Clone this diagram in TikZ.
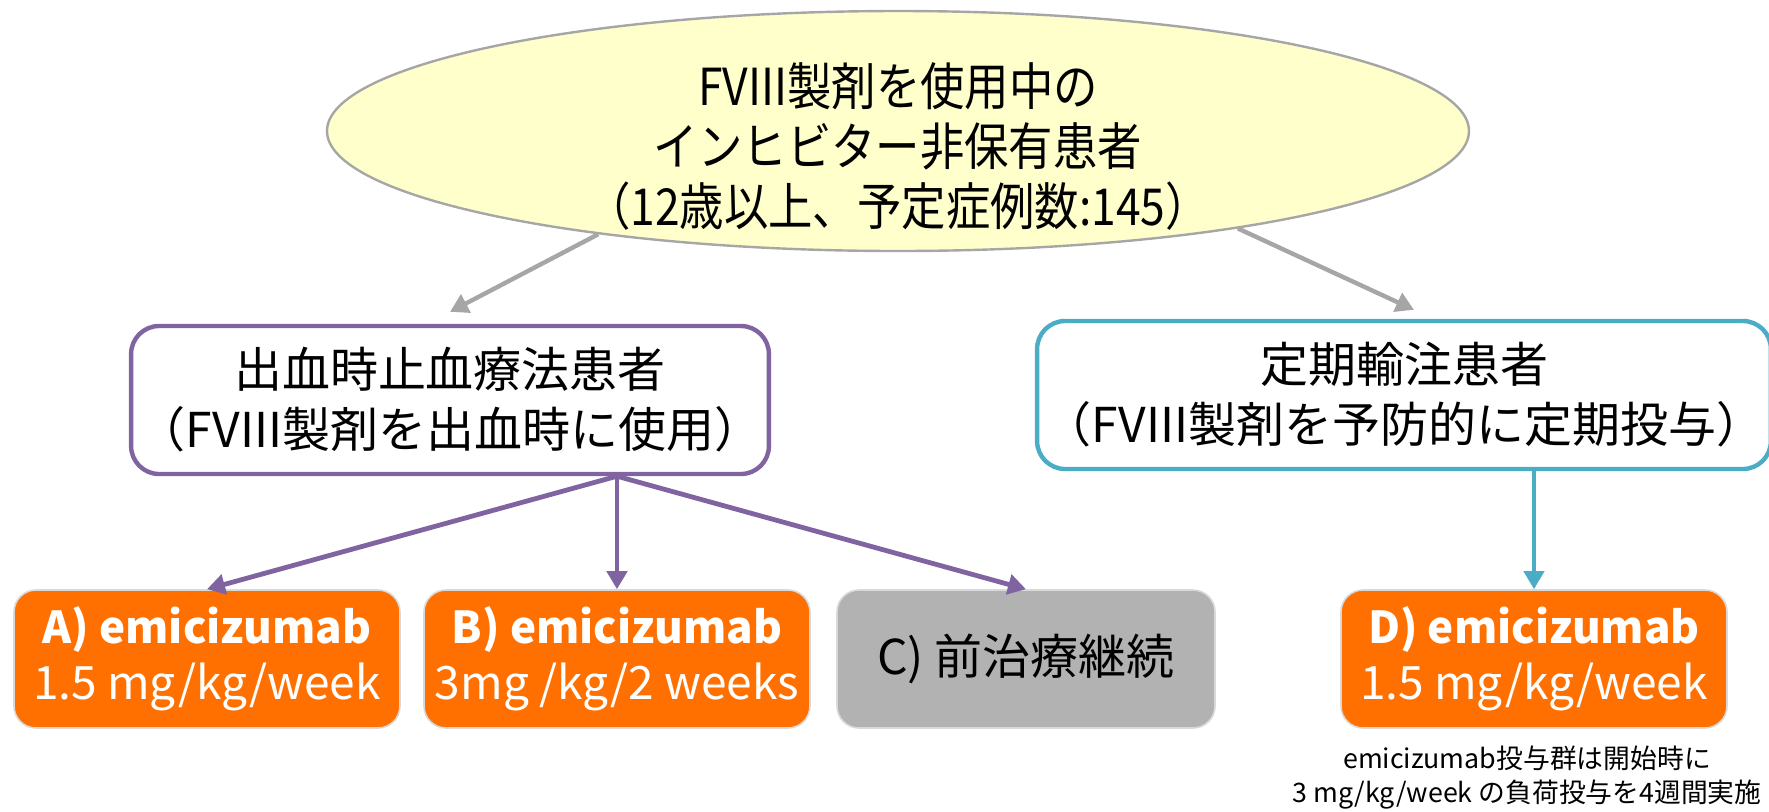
\documentclass[tikz,border=0pt]{standalone}
\usepackage{fontspec}
\setmainfont{Noto Sans CJK JP}
\newfontfamily\narrowjp{Noto Sans CJK JP}[FakeStretch=0.87]
\usepackage{xcolor}
\usetikzlibrary{shapes.geometric,arrows.meta}

\definecolor{ellfill}{HTML}{FFFFCC}
\definecolor{ellline}{HTML}{A6A6A6}
\definecolor{arrowgray}{HTML}{A6A6A6}
\definecolor{bleedpurple}{HTML}{8064A2}
\definecolor{prophteal}{HTML}{4BACC6}
\definecolor{armorange}{RGB}{255,112,0}
\definecolor{armgray}{HTML}{B2B2B2}

\begin{document}
\begin{tikzpicture}[x=0.5pt,y=-0.5pt,
	>={Triangle[length=9pt,width=10pt]},
	patient/.style={draw, rounded corners=14pt, line width=2.2pt, fill=white,
		minimum width=#1, minimum height=74pt, align=center,
		font=\fontsize{24}{30}\selectfont},
	arm/.style={rounded corners=11pt, fill=armorange, draw=black!15, line width=0.8pt,
		minimum width=193pt, minimum height=69pt, align=center, text=white,
		font=\fontsize{22}{28}\selectfont},
	]
	\useasboundingbox (0,0) rectangle (1769,811);

	\node[ellipse, draw=ellline, line width=1.2pt, fill=ellfill, minimum width=571pt,
		minimum height=120pt, inner sep=0pt] (top) at (898,131) {};
	\node[align=center, font=\narrowjp\fontsize{25.5}{30}\selectfont] (toptext) at (898,146)
		{FVIII製剤を使用中の\\インヒビター非保有患者\\（12歳以上、予定症例数:145）};

	\node[patient=309pt, draw=bleedpurple] (lbox) at (450,400)
		{出血時止血療法患者\\（FVIII製剤を出血時に使用）};
	\node[patient=361pt, draw=prophteal] (rbox) at (1404,395)
		{定期輸注患者\\（FVIII製剤を予防的に定期投与）};

	\node[arm] (armA) at (207,659)
		{{\bfseries A) emicizumab}\\{\fontsize{23}{28}\selectfont 1.5 mg/kg/week}};
	\node[arm] (armB) at (617,659)
		{{\bfseries B) emicizumab}\\{\fontsize{23}{28}\selectfont 3mg /kg/2 weeks}};
	\node[arm, fill=armgray, text=black, minimum width=189pt,
		font=\fontsize{24}{30}\selectfont] (armC) at (1026,659) {C) 前治療継続};
	\node[arm] (armD) at (1534,659)
		{{\bfseries D) emicizumab}\\{\fontsize{23}{28}\selectfont 1.5 mg/kg/week}};

	\node[align=center, font=\fontsize{13.4}{17}\selectfont] (note) at (1527,778)
		{emicizumab投与群は開始時に\\3 mg/kg/week の負荷投与を4週間実施};

	\draw[->, draw=arrowgray, line width=2.2pt] (top.199) -- ([yshift=6pt]lbox.north);
	\draw[->, draw=arrowgray, line width=2.2pt] (top.344) -- ([xshift=5pt,yshift=4.5pt]rbox.north);

	\draw[->, draw=bleedpurple, line width=2.4pt] (lbox.south -| armB.north) -- (armA.north);
	\draw[->, draw=bleedpurple, line width=2.4pt] (lbox.south -| armB.north) -- (armB.north);
	\draw[->, draw=bleedpurple, line width=2.4pt] (lbox.south -| armB.north) -- (armC.north);
	\draw[->, draw=prophteal, line width=2pt] (rbox.south -| armD.north) -- (armD.north);
\end{tikzpicture}
\end{document}
